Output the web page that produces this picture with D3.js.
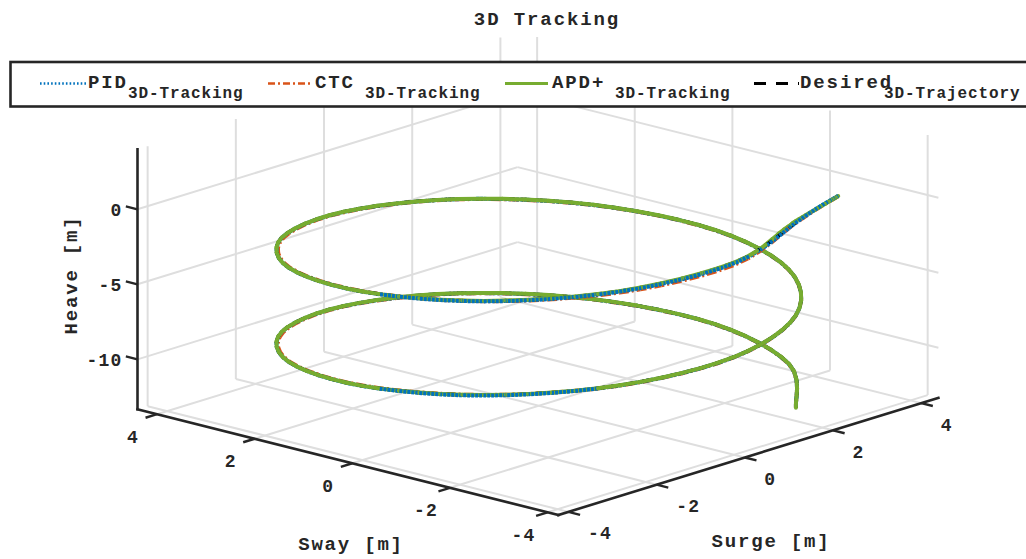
<!DOCTYPE html>
<html>
<head>
<meta charset="utf-8">
<script src="https://cdn.jsdelivr.net/npm/d3@7/dist/d3.min.js"></script>
<style>
  html, body { margin: 0; padding: 0; background: #ffffff; }
  svg { display: block; }
  text { font-family: "Liberation Mono", "DejaVu Sans Mono", monospace; font-weight: bold; fill: #262626; }
</style>
</head>
<body>
<svg id="chart" width="1026" height="559"></svg>
<script>
// ---- axis limits and ticks ----
const surgeLimits = [-4.23, 4.39];
const swayLimits = [-4.22, 4.40];
const heaveLimits = [-13.33, 4.00];
const surgeTicks = [-4, -2, 0, 2, 4];
const swayTicks = [-4, -2, 0, 2, 4];
const heaveTicks = [-10, -5, 0];

// ---- desired helix (surge, sway, heave) ----
const desiredSurge = [2.00, 0.00, -2.00, -3.46, -4.00, -3.46, -2.00, 0.00, 2.00, 3.46, 4.00, 3.46, 2.00, 0.00, -2.00, -3.46, -4.00, -3.46, -2.00, 0.00, 2.00, 3.46, 4.00, 3.46, 2.00];
const desiredSway  = [-3.46, -4.00, -3.46, -2.00, 0.00, 2.00, 3.46, 4.00, 3.46, 2.00, 0.00, -2.00, -3.46, -4.00, -3.46, -2.00, 0.00, 2.00, 3.46, 4.00, 3.46, 2.00, 0.00, -2.00, -3.46];
const desiredHeave = [-0.10, -0.52, -1.05, -1.57, -2.09, -2.62, -3.14, -3.67, -4.19, -4.71, -5.24, -5.76, -6.28, -6.81, -7.33, -7.85, -8.38, -8.90, -9.42, -9.95, -10.47, -11.00, -11.52, -12.04, -12.45];

// ---- PID tracking ----
const pidSurge = [3.38, 2.69, 2.02, 0.00, -2.02, -3.49, -4.00, -3.46, -2.00, 0.00, 2.00, 3.46, 4.00, 3.46, 2.00, 0.00, -2.00, -3.49, -4.00, -3.46, -2.00, 0.00, 2.00, 3.46, 4.00, 3.46, 2.00];
const pidSway  = [-3.08, -3.27, -3.49, -4.03, -3.49, -2.02, 0.00, 2.00, 3.46, 4.00, 3.46, 2.00, 0.00, -2.00, -3.46, -4.00, -3.46, -2.02, 0.00, 2.00, 3.46, 4.00, 3.46, 2.00, 0.00, -2.00, -3.46];
const pidHeave = [0.12, 0.07, 0.01, -0.51, -1.04, -1.56, -2.10, -2.63, -3.15, -3.68, -4.20, -4.72, -5.25, -5.77, -6.29, -6.82, -7.34, -7.84, -8.39, -8.91, -9.43, -9.96, -10.48, -11.01, -11.53, -12.05, -12.46];

// ---- CTC tracking ----
const ctcSurge = [3.38, 2.69, 2.00, 0.00, -2.00, -3.44, -3.97, -3.44, -1.99, 0.00, 2.00, 3.46, 4.00, 3.46, 2.00, 0.00, -2.00, -3.44, -3.97, -3.44, -1.99, 0.00, 2.00, 3.46, 4.00, 3.46, 2.00];
const ctcSway  = [-3.08, -3.27, -3.46, -4.00, -3.46, -1.99, 0.00, 1.99, 3.44, 3.99, 3.46, 2.00, 0.00, -2.00, -3.46, -4.00, -3.46, -1.99, 0.00, 1.99, 3.44, 3.99, 3.46, 2.00, 0.00, -2.00, -3.46];
const ctcHeave = [0.09, 0.03, -0.12, -0.68, -1.15, -1.62, -2.12, -2.64, -3.16, -3.69, -4.21, -4.73, -5.26, -5.78, -6.30, -6.83, -7.35, -7.87, -8.40, -8.92, -9.44, -9.97, -10.49, -11.02, -11.54, -12.06, -12.47];

// ---- APD+ tracking ----
const apdSurge = [3.38, 2.69, 2.00, 1.63, 0.00, -2.00, -3.46, -4.00, -3.46, -2.00, 0.00, 2.00, 3.46, 4.00, 3.46, 2.00, 0.00, -2.00, -3.46, -4.00, -3.46, -2.00, 0.00, 2.00, 3.46, 4.00, 3.46, 2.00];
const apdSway  = [-3.08, -3.27, -3.46, -3.55, -4.00, -3.46, -2.00, 0.00, 2.00, 3.46, 4.00, 3.46, 2.00, 0.00, -2.00, -3.46, -4.00, -3.46, -2.00, 0.00, 2.00, 3.46, 4.00, 3.46, 2.00, 0.00, -2.00, -3.46];
const apdHeave = [0.10, 0.05, 0.00, -0.16, -0.52, -1.05, -1.57, -2.09, -2.62, -3.14, -3.67, -4.19, -4.71, -5.24, -5.76, -6.28, -6.81, -7.33, -7.85, -8.38, -8.90, -9.42, -9.95, -10.47, -11.00, -11.52, -12.04, -12.45];

// ---- legend entries ----
const legendNames = ["PID", "CTC", "APD+", "Desired"];
const legendSubs = ["3D-Tracking", "3D-Tracking", "3D-Tracking", "3D-Trajectory"];

// ================= drawing =================
const svg = d3.select("#chart");
const ink = "#262626";
const gridColor = "#dedede";

// axes box: screen position of (min,min,min) and the on-screen span of each axis
const origin = [558.3, 515.0];
const surgeSpan = [380.1, -117.2];
const swaySpan = [-420.8, -105.7];
const heaveSpan = [0, -260.0];

const sx = d3.scaleLinear().domain(surgeLimits).range([0, 1]);
const sy = d3.scaleLinear().domain(swayLimits).range([0, 1]);
const sz = d3.scaleLinear().domain(heaveLimits).range([0, 1]);

function project(x, y, z) {
  const u = sx(x), v = sy(y), w = sz(z);
  return [origin[0] + u * surgeSpan[0] + v * swaySpan[0] + w * heaveSpan[0],
          origin[1] + u * surgeSpan[1] + v * swaySpan[1] + w * heaveSpan[1]];
}
// distance from the viewer (larger = further away), used for back-to-front ordering
function depth(x, y, z) { return 0.608 * x + 0.55 * y - z; }

const [x0, x1] = surgeLimits, [y0, y1] = swayLimits, [z0, z1] = heaveLimits;

// ---- grid ----
const gridSegs = [];
surgeTicks.forEach(t => {
  gridSegs.push([[t, y0, z0], [t, y1, z0]]);      // floor
  gridSegs.push([[t, y1, z0], [t, y1, z1]]);      // back wall (sway max)
});
swayTicks.forEach(t => {
  gridSegs.push([[x0, t, z0], [x1, t, z0]]);      // floor
  gridSegs.push([[x1, t, z0], [x1, t, z1]]);      // back wall (surge max)
});
heaveTicks.forEach(t => {
  gridSegs.push([[x0, y1, t], [x1, y1, t]]);
  gridSegs.push([[x1, y0, t], [x1, y1, t]]);
});
svg.append("g").selectAll("line").data(gridSegs).join("line")
  .attr("x1", d => project(...d[0])[0]).attr("y1", d => project(...d[0])[1])
  .attr("x2", d => project(...d[1])[0]).attr("y2", d => project(...d[1])[1])
  .attr("stroke", gridColor).attr("stroke-width", 2);

// ---- axis lines ----
const axisSegs = [
  [[x0, y0, z0], [x1, y0, z0]],
  [[x0, y0, z0], [x0, y1, z0]],
  [[x0, y1, z0], [x0, y1, z1]]
];
const gAxes = svg.append("g");
gAxes.selectAll("line.axis").data(axisSegs).join("line").attr("class", "axis")
  .attr("x1", d => project(...d[0])[0]).attr("y1", d => project(...d[0])[1])
  .attr("x2", d => project(...d[1])[0]).attr("y2", d => project(...d[1])[1])
  .attr("stroke", ink).attr("stroke-width", 2.6).attr("stroke-linecap", "square");

function unit(v, s) { const n = Math.hypot(v[0], v[1]); return [s * v[0] / n, s * v[1] / n]; }
const tickLen = 12;
const surgeTickDir = unit(swaySpan, -tickLen);
const swayTickDir = unit(surgeSpan, -tickLen);
const heaveTickDir = unit(swaySpan, tickLen);

const tickData = [
  ...surgeTicks.map(t => ({ p: project(t, y0, z0), dir: surgeTickDir, label: t, kind: "surge" })),
  ...swayTicks.map(t => ({ p: project(x0, t, z0), dir: swayTickDir, label: t, kind: "sway" })),
  ...heaveTicks.map(t => ({ p: project(x0, y1, t), dir: heaveTickDir, label: t, kind: "heave" }))
];
gAxes.selectAll("line.tick").data(tickData).join("line").attr("class", "tick")
  .attr("x1", d => d.p[0]).attr("y1", d => d.p[1])
  .attr("x2", d => d.p[0] + d.dir[0]).attr("y2", d => d.p[1] + d.dir[1])
  .attr("stroke", ink).attr("stroke-width", 2.4);

const labelOffset = {
  surge: { dx: 19.5, dy: 27.5, anchor: "start" },
  sway: { dx: -24, dy: 28.5, anchor: "middle" },
  heave: { dx: -15, dy: 6.5, anchor: "end" }
};
const fmt = d => (d < 0 ? "-" + Math.abs(d) : String(d));
gAxes.selectAll("text.ticklabel").data(tickData).join("text").attr("class", "ticklabel")
  .attr("x", d => d.p[0] + labelOffset[d.kind].dx)
  .attr("y", d => d.p[1] + labelOffset[d.kind].dy)
  .attr("text-anchor", d => labelOffset[d.kind].anchor)
  .style("font-size", "18px").style("letter-spacing", "1.2px")
  .text(d => fmt(d.label));

// ---- axis titles ----
svg.append("text").attr("x", 771).attr("y", 547).attr("text-anchor", "middle")
  .style("font-size", "19px").style("letter-spacing", "1.8px").text("Surge [m]");
svg.append("text").attr("x", 351).attr("y", 550).attr("text-anchor", "middle")
  .style("font-size", "19px").style("letter-spacing", "1.8px").text("Sway [m]");
svg.append("text").attr("transform", "translate(77,275) rotate(-90)").attr("text-anchor", "middle")
  .style("font-size", "19px").style("letter-spacing", "1.8px").text("Heave [m]");

// ---- trajectories, drawn back to front ----
const traces = [
  { surge: desiredSurge, sway: desiredSway, heave: desiredHeave, color: "#000000", width: 3.4, dash: [9, 6], cap: "butt" },
  { surge: ctcSurge, sway: ctcSway, heave: ctcHeave, color: "#D95319", width: 4, dash: [10, 3, 2, 3], cap: "butt" },
  { surge: pidSurge, sway: pidSway, heave: pidHeave, color: "#0072BD", width: 4, dash: [3, 1], cap: "butt" },
  { surge: apdSurge, sway: apdSway, heave: apdHeave, color: "#77AC30", width: 4, dash: null, cap: "round" }
];

const pieces = [];
const SUB = 6;
traces.forEach((tr, ti) => {
  const pts = tr.surge.map((s, i) => {
    const q = project(s, tr.sway[i], tr.heave[i]);
    return { X: q[0], Y: q[1], D: depth(s, tr.sway[i], tr.heave[i]) };
  });
  let run = 0;
  for (let i = 0; i < pts.length - 1; i++) {
    const p0 = pts[Math.max(i - 1, 0)], p1 = pts[i], p2 = pts[i + 1], p3 = pts[Math.min(i + 2, pts.length - 1)];
    const c1 = [p1.X + (p2.X - p0.X) / 6, p1.Y + (p2.Y - p0.Y) / 6];
    const c2 = [p2.X - (p3.X - p1.X) / 6, p2.Y - (p3.Y - p1.Y) / 6];
    let prev = [p1.X, p1.Y];
    for (let k = 1; k <= SUB; k++) {
      const t = k / SUB, u = 1 - t;
      const X = u * u * u * p1.X + 3 * u * u * t * c1[0] + 3 * u * t * t * c2[0] + t * t * t * p2.X;
      const Y = u * u * u * p1.Y + 3 * u * u * t * c1[1] + 3 * u * t * t * c2[1] + t * t * t * p2.Y;
      const tm = (k - 0.5) / SUB;
      const D = p1.D + (p2.D - p1.D) * tm;
      pieces.push({ ti, a: prev, b: [X, Y], D, offset: run });
      run += Math.hypot(X - prev[0], Y - prev[1]);
      prev = [X, Y];
    }
  }
});
pieces.sort((p, q) => (q.D - p.D) || (p.ti - q.ti));

svg.append("g").selectAll("line").data(pieces).join("line")
  .attr("x1", d => d.a[0]).attr("y1", d => d.a[1])
  .attr("x2", d => d.b[0]).attr("y2", d => d.b[1])
  .attr("stroke", d => traces[d.ti].color)
  .attr("stroke-width", d => traces[d.ti].width)
  .attr("stroke-linecap", d => traces[d.ti].cap)
  .attr("stroke-dasharray", d => traces[d.ti].dash ? traces[d.ti].dash.join(",") : null)
  .attr("stroke-dashoffset", d => d.offset);

// ---- legend ----
const legend = svg.append("g");
legend.append("rect").attr("x", 10.5).attr("y", 62).attr("width", 1040).attr("height", 44.5)
  .attr("fill", "#ffffff").attr("stroke", ink).attr("stroke-width", 2.6);

const legendStyle = [
  { color: "#0072BD", dash: "1.6,2.1", width: 2.4, x0: 40, x1: 87, tx: 88, sx: 128 },
  { color: "#D95319", dash: "7,3,2,3", width: 2.6, x0: 268, x1: 313, tx: 315, sx: 365 },
  { color: "#77AC30", dash: null, width: 2.8, x0: 505, x1: 548, tx: 552, sx: 615 },
  { color: "#000000", dash: "12,10", width: 3, x0: 754, x1: 799, tx: 800, sx: 884 }
];
const items = legend.selectAll("g.item").data(legendNames).join("g").attr("class", "item");
items.append("line")
  .attr("x1", (d, i) => legendStyle[i].x0).attr("x2", (d, i) => legendStyle[i].x1)
  .attr("y1", 83.5).attr("y2", 83.5)
  .attr("stroke", (d, i) => legendStyle[i].color)
  .attr("stroke-width", (d, i) => legendStyle[i].width)
  .attr("stroke-dasharray", (d, i) => legendStyle[i].dash);
items.append("text").attr("x", (d, i) => legendStyle[i].tx).attr("y", 87.5)
  .style("font-size", "19px").style("letter-spacing", "1.9px").text(d => d);
items.append("text").attr("x", (d, i) => legendStyle[i].sx).attr("y", 98)
  .style("font-size", "16px").style("letter-spacing", "0.9px").text((d, i) => legendSubs[i]);

// ---- title ----
svg.append("text").attr("x", 547).attr("y", 25).attr("text-anchor", "middle")
  .style("font-size", "19px").style("letter-spacing", "1.9px").text("3D Tracking");
</script>
</body>
</html>
